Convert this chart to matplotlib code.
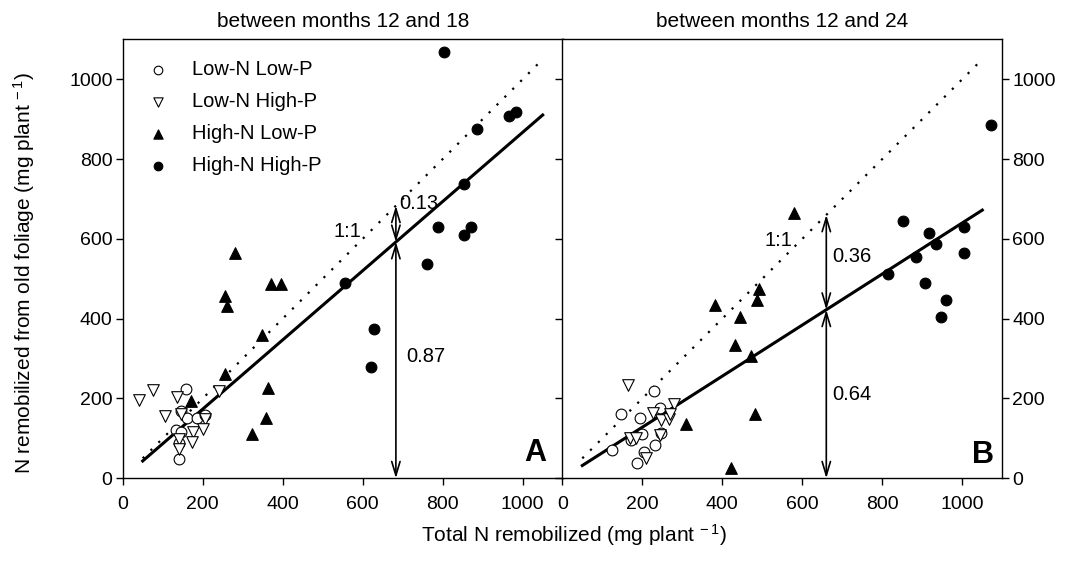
import matplotlib
matplotlib.use("Agg")
import matplotlib.pyplot as plt
import numpy as np

plt.rcParams['font.family'] = ['Liberation Sans', 'DejaVu Sans']
plt.rcParams['mathtext.default'] = 'regular'

# panel A: between months 12 and 18
a_lnlp_x = [159, 145, 162, 185, 207, 133, 147, 140, 140]
a_lnlp_y = [223, 168, 152, 152, 158, 121, 115, 89, 49]
a_lnhp_x = [42, 77, 137, 107, 145, 207, 241, 177, 200, 142, 173, 142]
a_lnhp_y = [197, 222, 204, 157, 162, 149, 219, 117, 124, 99, 91, 74]
a_hnlp_x = [280, 256, 260, 370, 396, 349, 255, 172, 363, 358, 323]
a_hnlp_y = [564, 457, 432, 486, 486, 358, 261, 194, 226, 150, 112]
a_hnhp_x = [804, 966, 984, 886, 854, 788, 854, 870, 761, 557, 629, 622]
a_hnhp_y = [1067, 909, 918, 876, 738, 629, 609, 629, 536, 490, 374, 279]

# panel B: between months 12 and 24
b_lnlp_x = [229, 148, 244, 194, 200, 171, 125, 232, 205, 186, 246]
b_lnlp_y = [219, 160, 175, 151, 111, 97, 72, 83, 65, 38, 113]
b_lnhp_x = [165, 280, 226, 246, 268, 170, 184, 244, 209, 269]
b_lnhp_y = [234, 186, 164, 147, 148, 101, 102, 108, 52, 161]
b_hnlp_x = [579, 382, 445, 491, 486, 433, 473, 310, 483, 421]
b_hnlp_y = [666, 434, 405, 474, 446, 333, 307, 135, 162, 27]
b_hnhp_x = [1072, 852, 916, 935, 884, 815, 908, 1005, 1004, 960, 948]
b_hnhp_y = [885, 644, 614, 588, 554, 511, 489, 630, 564, 448, 405]

slope_a = 0.867
slope_b = 0.64
line_x = [50, 1050]
arrow_x_a = 683
arrow_x_b = 660

fig = plt.figure(figsize=(10.76, 5.63), dpi=100)
axA = fig.add_axes([0.11403, 0.15044, 0.40892, 0.77975])
axB = fig.add_axes([0.52258, 0.15044, 0.40892, 0.77975])

mk = dict(s=60, edgecolors='black', linewidths=0.8, zorder=3)


def draw_panel(ax, lnlp, lnhp, hnlp, hnhp, slope, ax_x, tag, title):
    ax.scatter(*lnlp, marker='o', facecolors='white', label='Low-N Low-P', **mk)
    ax.scatter(*lnhp, marker='v', facecolors='white', label='Low-N High-P', s=70,
               edgecolors='black', linewidths=0.8, zorder=3)
    ax.scatter(*hnlp, marker='^', facecolors='black', label='High-N Low-P', s=70,
               edgecolors='black', linewidths=0.8, zorder=3)
    ax.scatter(*hnhp, marker='o', facecolors='black', label='High-N High-P', **mk)

    lx = np.array(line_x)
    ax.plot(lx, lx, color='black', lw=1.6, linestyle=(0, (1, 4)), zorder=2)
    ax.plot(lx, slope * lx, color='black', lw=2.2, zorder=2)

    fit_y = slope * ax_x
    ap = dict(arrowstyle='<->,head_length=1.0,head_width=0.3', lw=1.2,
              color='black', shrinkA=0, shrinkB=0, mutation_scale=10)
    ax.annotate('', xy=(ax_x, 0), xytext=(ax_x, fit_y), arrowprops=ap)
    ax.annotate('', xy=(ax_x, fit_y), xytext=(ax_x, ax_x), arrowprops=ap)

    ax.set_xlim(0, 1100)
    ax.set_ylim(0, 1100)
    ax.set_xticks(range(0, 1001, 200))
    ax.set_yticks(range(0, 1001, 200))
    ax.tick_params(direction='out', length=4.8, width=1, labelsize=14)
    ax.tick_params(axis='x', pad=8)
    ax.tick_params(axis='y', pad=2.5)
    ax.set_title(title, fontsize=15, pad=9)
    for sp in ax.spines.values():
        sp.set_linewidth(1.0)
    ax.text(tag[1], tag[2], tag[0], fontsize=22, fontweight='bold',
            ha='center', va='center')


draw_panel(axA, (a_lnlp_x, a_lnlp_y), (a_lnhp_x, a_lnhp_y), (a_hnlp_x, a_hnlp_y),
           (a_hnhp_x, a_hnhp_y), slope_a, arrow_x_a, ('A', 1032, 63),
           'between months 12 and 18')
draw_panel(axB, (b_lnlp_x, b_lnlp_y), (b_lnhp_x, b_lnhp_y), (b_hnlp_x, b_hnlp_y),
           (b_hnhp_x, b_hnhp_y), slope_b, arrow_x_b, ('B', 1053, 58),
           'between months 12 and 24')

axA.text(563, 619, '1:1', fontsize=14.5, ha='center', va='center')
axA.text(741, 689, '0.13', fontsize=14.5, ha='center', va='center')
axA.text(758, 306, '0.87', fontsize=14.5, ha='center', va='center')
axB.text(540, 596, '1:1', fontsize=14.5, ha='center', va='center')
axB.text(723, 555, '0.36', fontsize=14.5, ha='center', va='center')
axB.text(723, 209, '0.64', fontsize=14.5, ha='center', va='center')

axA.tick_params(right=False)
axB.tick_params(left=True, labelleft=False, right=True, labelright=True)

axA.legend(loc='upper left', bbox_to_anchor=(0.003, 0.985), frameon=False,
           fontsize=14.5, scatterpoints=1, handletextpad=0.69, labelspacing=0.65,
           markerscale=0.8, borderpad=0.2)

fig.text(0.5335, 0.049, 'Total N remobilized (mg plant$^{\\,-1}$)', fontsize=15,
         ha='center', va='center')
fig.text(0.022, 0.515, 'N remobilized from old foliage (mg plant$^{\\,-1}$)',
         fontsize=15, ha='center', va='center', rotation=90)

fig.savefig('out.png', dpi=100)
